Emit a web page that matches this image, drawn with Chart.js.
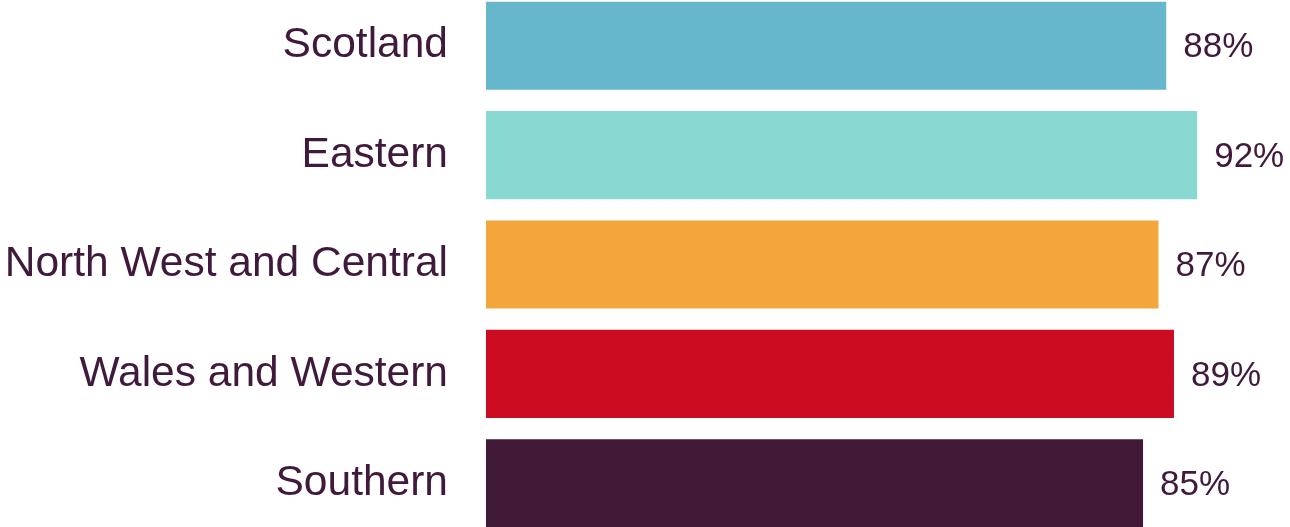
<!DOCTYPE html>
<html>
<head>
<meta charset="utf-8">
<script src="https://cdn.jsdelivr.net/npm/chart.js@4"></script>
<style>
  html, body { margin: 0; padding: 0; background: #fff; overflow: hidden; }
  #wrap { position: absolute; left: 0; top: -9px; width: 1290px; height: 547px; }
</style>
</head>
<body>
<div id="wrap"><canvas id="chart-bar"></canvas></div>
<script>
const regions = ['Scotland', 'Eastern', 'North West and Central', 'Wales and Western', 'Southern']
const scores = [88, 92, 87, 89, 85]
const barColours = ['#67b7cc', '#89d9d2', '#f2a63b', '#cc0c21', '#411a38']
const textColour = '#3f1a3a'

// draws the "88%" style labels just past the end of each bar
const valueLabels = {
    id: 'valueLabels',
    afterDatasetsDraw(chart) {
        const ctx = chart.ctx
        const meta = chart.getDatasetMeta(0)
        ctx.save()
        ctx.font = '35px "Liberation Sans", Arial, sans-serif'
        ctx.fillStyle = textColour
        ctx.textAlign = 'left'
        ctx.textBaseline = 'middle'
        meta.data.forEach((bar, i) => {
            ctx.fillText(scores[i] + '%', bar.x + 17, bar.y + 2)
        })
        ctx.restore()
    }
}

new Chart(document.querySelector('#chart-bar'), {
    type: 'bar',
    data: {
        labels: regions,
        datasets: [{
            data: scores,
            backgroundColor: barColours,
            borderWidth: 0,
            barPercentage: 0.805,
            categoryPercentage: 1
        }]
    },
    options: {
        indexAxis: 'y',
        responsive: true,
        maintainAspectRatio: false,
        animation: false,
        layout: { padding: { left: 0, right: 31, top: 0, bottom: 0 } },
        plugins: {
            legend: { display: false },
            tooltip: { enabled: false }
        },
        scales: {
            x: {
                display: false,
                min: 0,
                max: 100
            },
            y: {
                grid: { display: false, drawTicks: false },
                border: { display: false },
                ticks: {
                    color: textColour,
                    padding: 38,
                    font: { family: '"Liberation Sans", Arial, sans-serif', size: 42.5 }
                },
                afterFit(scale) {
                    scale.width = 486
                    scale.paddingTop = 0
                    scale.paddingBottom = 0
                }
            }
        }
    },
    plugins: [valueLabels]
});
</script>
</body>
</html>
